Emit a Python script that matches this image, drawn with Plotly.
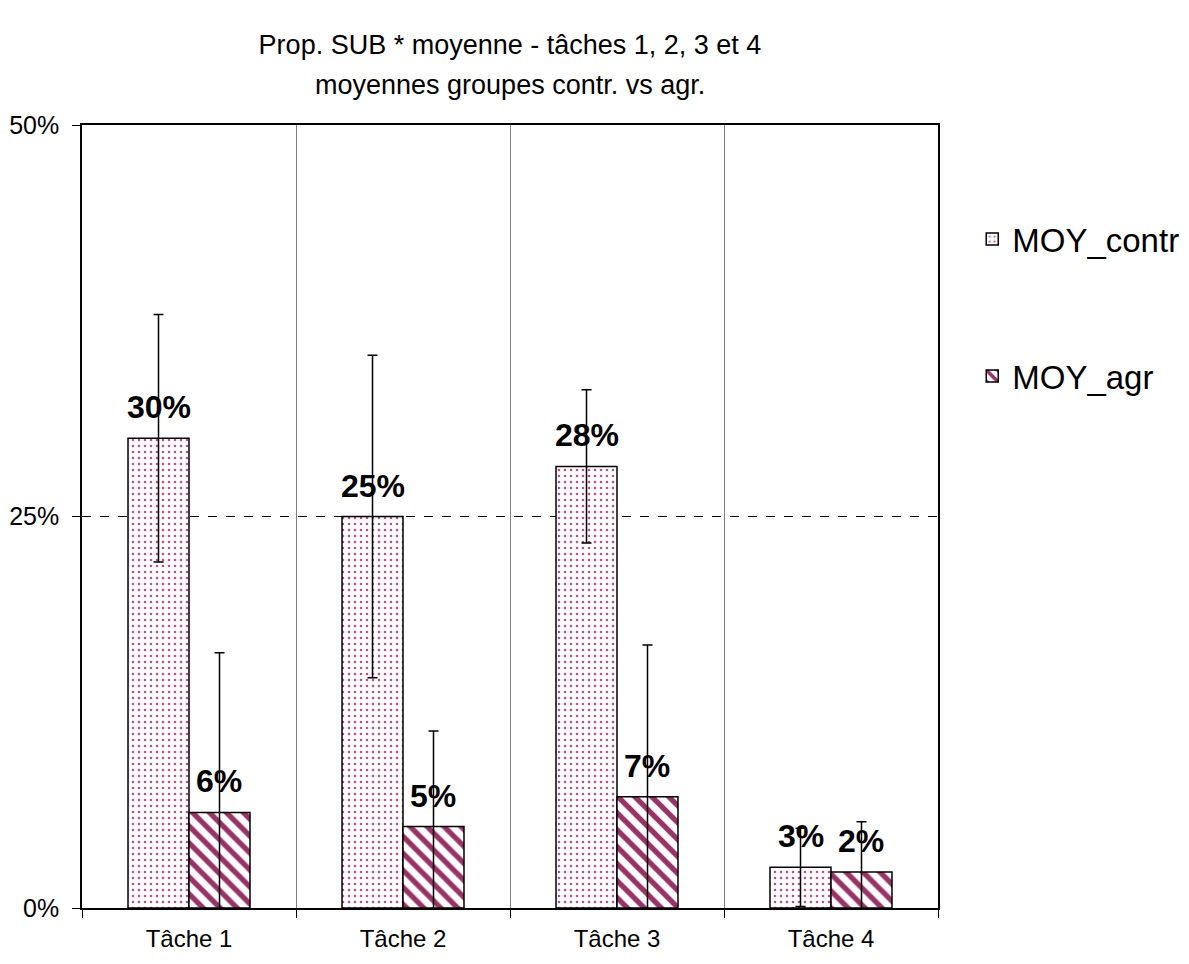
import plotly.graph_objects as go

categories = ["Tâche 1", "Tâche 2", "Tâche 3", "Tâche 4"]
moy_contr = [0.300, 0.250, 0.282, 0.026]
moy_contr_err = [0.079, 0.103, 0.049, 0.025]
moy_agr = [0.061, 0.052, 0.071, 0.023]
moy_agr_err = [0.102, 0.061, 0.097, 0.032]
labels_contr = ["30%", "25%", "28%", "3%"]
labels_agr = ["6%", "5%", "7%", "2%"]
title_line1 = "Prop. SUB * moyenne - tâches 1, 2, 3 et 4"
title_line2 = "moyennes groupes contr. vs agr."

FONT = "Arial, Liberation Sans, sans-serif"
BURG = "#993366"
DOT = "#b8508a"

fig = go.Figure()
fig.add_trace(go.Bar(
    name="MOY_contr", x=categories, y=moy_contr,
    marker=dict(color="white", line=dict(color="black", width=1.5),
                pattern=dict(shape=".", fgcolor=DOT, bgcolor="white", fgopacity=1, size=6, solidity=0.15)),
    error_y=dict(type="data", array=moy_contr_err, visible=True, color="black", thickness=1.5, width=5),
    legendgroup="a",
))
fig.add_trace(go.Bar(
    name="MOY_agr", x=categories, y=moy_agr,
    marker=dict(color="white", line=dict(color="black", width=1.5),
                pattern=dict(shape="\\", fgcolor=BURG, bgcolor="white", fgopacity=1, size=12, solidity=0.45)),
    error_y=dict(type="data", array=moy_agr_err, visible=True, color="black", thickness=1.5, width=5),
    legendgroup="b",
))

for cat, v, t in zip(categories, moy_contr, labels_contr):
    fig.add_annotation(x=cat, y=v, xref="x", yref="y", text="<b>" + t + "</b>", showarrow=False,
                       xshift=-30, yshift=31, font=dict(family=FONT, size=32, color="black"))
for cat, v, t in zip(categories, moy_agr, labels_agr):
    fig.add_annotation(x=cat, y=v, xref="x", yref="y", text="<b>" + t + "</b>", showarrow=False,
                       xshift=30, yshift=31, font=dict(family=FONT, size=32, color="black"))

fig.add_annotation(x=0.5, y=1.051, xref="paper", yref="paper", xanchor="center", yanchor="middle",
                   text=title_line2, showarrow=False, font=dict(family=FONT, size=27, color="black"))

fig.update_layout(
    width=1173, height=948,
    margin=dict(l=74, r=243, t=117, b=48, autoexpand=False),
    paper_bgcolor="white", plot_bgcolor="white",
    barmode="group", bargap=0.43, bargroupgap=0,
    font=dict(family=FONT, color="black"),
    title=dict(text=title_line1,
               x=0.5, xref="paper", xanchor="center", y=0.961, yanchor="middle",
               font=dict(family=FONT, size=27, color="black")),
    legend=dict(x=1.04, y=0.89, xanchor="left", yanchor="top",
                font=dict(family=FONT, size=33, color="black"),
                traceorder="grouped", tracegroupgap=91, bgcolor="rgba(0,0,0,0)"),
    xaxis=dict(type="category", tickson="boundaries", showgrid=True, gridcolor="#808080", gridwidth=1,
               showline=True, linecolor="black", linewidth=1.5, mirror=True,
               ticks="outside", ticklen=8, tickcolor="black", tickwidth=1,
               ticklabelstandoff=8, automargin=False,
               tickfont=dict(family=FONT, size=24, color="black")),
    yaxis=dict(range=[0, 0.5], tickvals=[0, 0.25, 0.5], tickformat=".0%",
               showgrid=True, gridcolor="black", gridwidth=1, griddash="dash",
               showline=True, linecolor="black", linewidth=1.5, mirror=True,
               ticks="outside", ticklen=8, tickcolor="black", tickwidth=1,
               ticklabelstandoff=8, automargin=False,
               tickfont=dict(family=FONT, size=25, color="black"), zeroline=False),
)

fig.write_html("out.html")
